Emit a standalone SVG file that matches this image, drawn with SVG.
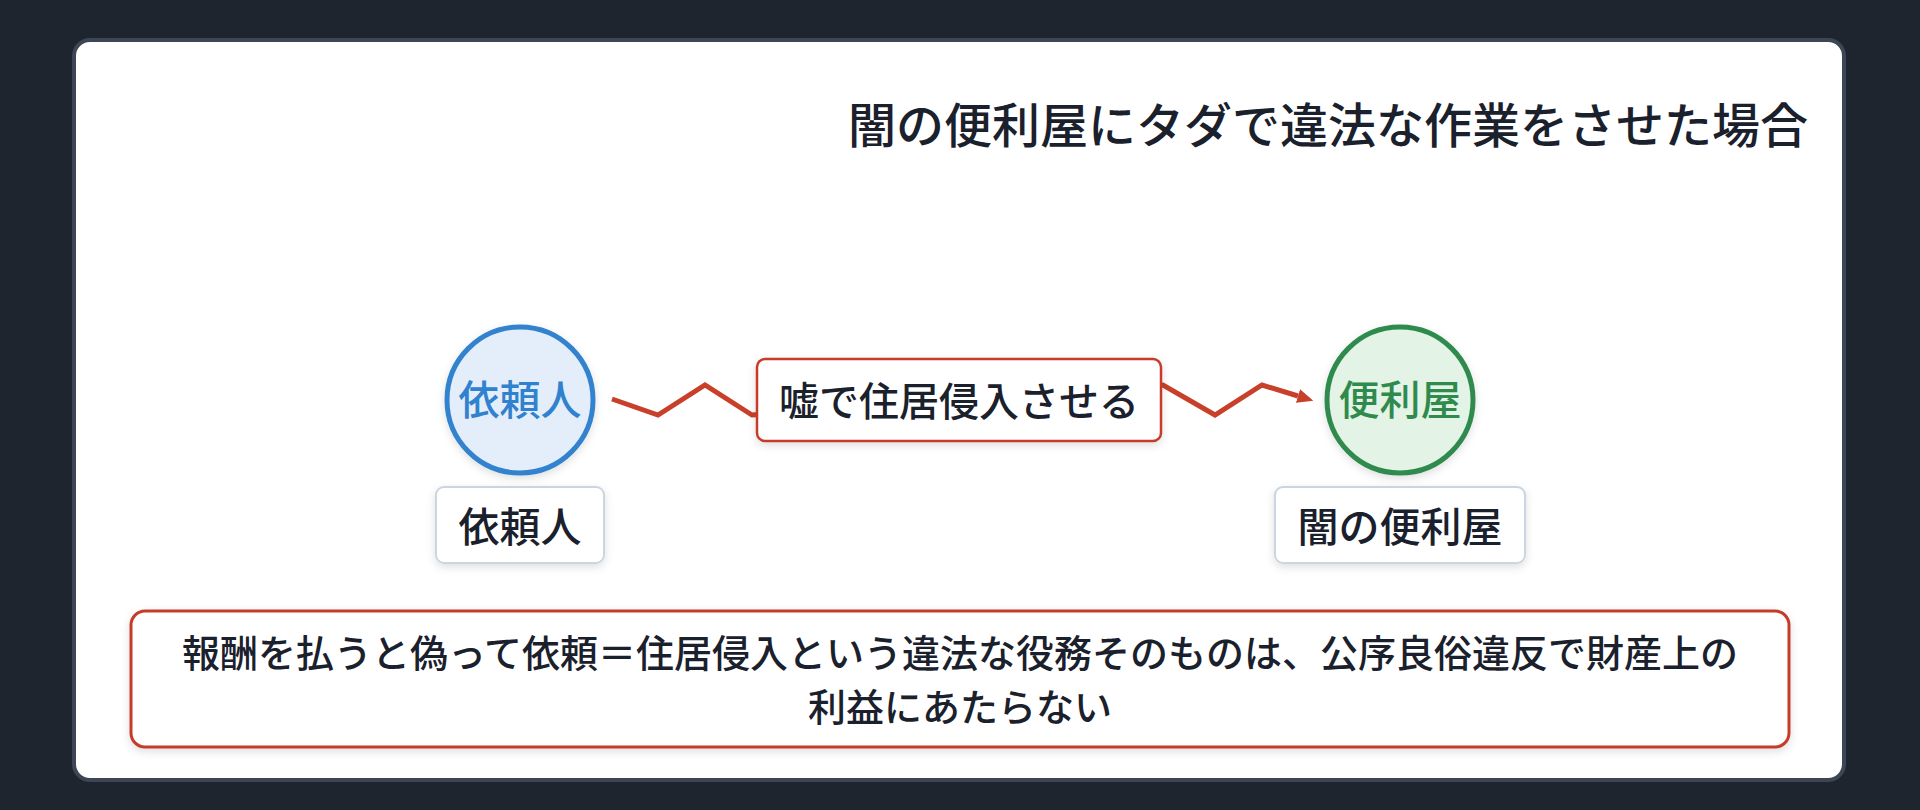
<svg xmlns="http://www.w3.org/2000/svg" width="1920" height="810" viewBox="0 0 1920 810">
  <style>
    text { font-family: "Noto Sans CJK JP", "Noto Sans", sans-serif; text-anchor: middle; fill: #1a202c; }
    .title { font-size: 48px; font-weight: 500; text-anchor: end; }
    .circ-label { font-size: 41px; font-weight: 500; }
    .tag { fill: #ffffff; stroke: #cbd5e0; stroke-width: 2; }
    .tag-text { font-size: 41px; font-weight: 500; }
    .red-box { fill: #ffffff; stroke: #c53d2a; }
    .edge-text { font-size: 40px; font-weight: 500; }
    .note-text { font-size: 38px; font-weight: 500; }
    .conn { fill: none; stroke: #c8402a; stroke-width: 5; stroke-linejoin: miter; }
  </style>
  <defs>
    <filter id="shadow" x="-20%" y="-20%" width="140%" height="150%">
      <feDropShadow dx="0" dy="3" stdDeviation="4" flood-color="#000000" flood-opacity="0.13"/>
    </filter>
    <marker id="arrow" markerUnits="userSpaceOnUse" markerWidth="17" markerHeight="14" refX="0" refY="7" orient="auto">
      <path d="M0,0 L16,7 L0,14 z" fill="#c8402a"/>
    </marker>
  </defs>

  <rect x="0" y="0" width="1920" height="810" fill="#1e252f"/>
  <rect x="74" y="40" width="1770" height="740" rx="16" fill="#ffffff" stroke="#3d4654" stroke-width="4"/>

  <g id="title">
    <text class="title" x="1808" y="143">闇の便利屋にタダで違法な作業をさせた場合</text>
  </g>

  <g id="connectors">
    <path class="conn" d="M612,399 L658,415 L705,385 L752,415 L1163,385 L1215,415 L1262,385 L1298,396" marker-end="url(#arrow)"/>
  </g>

  <g id="node-client">
    <circle cx="520" cy="400" r="73" fill="#e4eefa" stroke="#3182ce" stroke-width="5" filter="url(#shadow)"/>
    <text class="circ-label" x="520" y="415" style="fill:#3182ce">依頼人</text>
  </g>

  <g id="label-client">
    <rect class="tag" x="436" y="487" width="168" height="76" rx="8" filter="url(#shadow)"/>
    <text class="tag-text" x="520" y="542">依頼人</text>
  </g>

  <g id="node-benriya">
    <circle cx="1400" cy="400" r="73" fill="#e3f4e6" stroke="#2f8a4e" stroke-width="5" filter="url(#shadow)"/>
    <text class="circ-label" x="1400" y="415" style="fill:#2f8a4e">便利屋</text>
  </g>

  <g id="label-benriya">
    <rect class="tag" x="1275" y="487" width="250" height="76" rx="8" filter="url(#shadow)"/>
    <text class="tag-text" x="1400" y="542">闇の便利屋</text>
  </g>

  <g id="edge-label">
    <rect class="red-box" x="757" y="359" width="404" height="82" rx="8" stroke-width="2.5" filter="url(#shadow)"/>
    <text class="edge-text" x="959" y="416">嘘で住居侵入させる</text>
  </g>

  <g id="note">
    <rect class="red-box" x="131" y="611" width="1658" height="136" rx="14" stroke-width="3" filter="url(#shadow)"/>
    <text class="note-text" x="960" y="667">報酬を払うと偽って依頼＝住居侵入という違法な役務そのものは、公序良俗違反で財産上の</text>
    <text class="note-text" x="960" y="721">利益にあたらない</text>
  </g>
</svg>
